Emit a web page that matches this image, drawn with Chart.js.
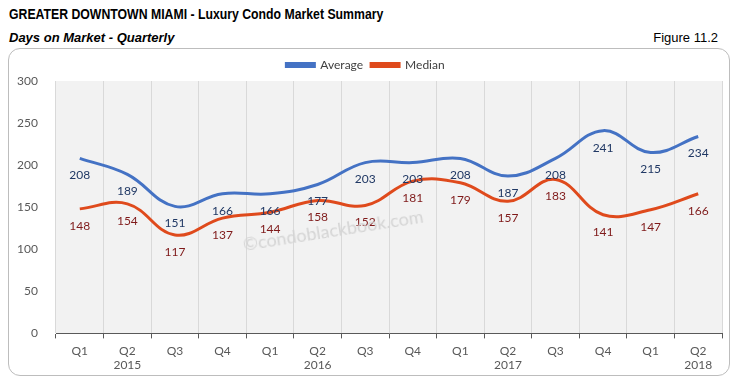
<!DOCTYPE html>
<html>
<head>
<meta charset="utf-8">
<script src="https://cdn.jsdelivr.net/npm/chart.js@4"></script>
<style>
  body { margin: 0; width: 732px; height: 384px; background: #fff; font-family: "Liberation Sans", Arial, sans-serif; position: relative; overflow: hidden; }
  .title { position: absolute; left: 9px; top: 6px; font-size: 14px; font-weight: bold; color: #000; transform: scaleX(0.876); transform-origin: left top; white-space: nowrap; }
  .subtitle { position: absolute; left: 9px; top: 30px; font-size: 13px; font-weight: bold; font-style: italic; color: #000; }
  .fig { position: absolute; right: 14px; top: 30px; font-size: 13px; color: #000; }
  .box { position: absolute; left: 8px; top: 48px; width: 720px; height: 326px; border: 1px solid #bdbdbd; border-radius: 12px; }
  #chart { position: absolute; left: 0; top: 0; }
  .mark { position: absolute; left: 243px; top: 233px; font-family: Lato, sans-serif; font-size: 18px; color: #d4d4d4; transform: rotate(-9deg); transform-origin: left center; white-space: nowrap; }
</style>
</head>
<body>
<div class="title">GREATER DOWNTOWN MIAMI - Luxury Condo Market Summary</div>
<div class="subtitle">Days on Market - Quarterly</div>
<div class="fig">Figure 11.2</div>
<div class="box"><canvas id="chart" width="720" height="329"></canvas></div>
<div class="mark">©condoblackbook.com</div>
<script>
// quarters and year labels
const quarters = ['Q1', 'Q2', 'Q3', 'Q4', 'Q1', 'Q2', 'Q3', 'Q4', 'Q1', 'Q2', 'Q3', 'Q4', 'Q1', 'Q2']
const years = ['', '2015', '', '', '', '2016', '', '', '', '2017', '', '', '', '2018']
const average = [208, 189, 151, 166, 166, 177, 203, 203, 208, 187, 208, 241, 215, 234]
const median = [148, 154, 117, 137, 144, 158, 152, 181, 179, 157, 183, 141, 147, 166]
const yTicks = [0, 50, 100, 150, 200, 250, 300]

const labels = quarters.map((q, i) => [q, years[i]])

// grey plot background
const plotBg = {
  id: 'plotBg',
  beforeDraw (chart) {
    const { ctx, chartArea: a } = chart
    ctx.save()
    ctx.fillStyle = '#f2f2f2'
    ctx.fillRect(a.left, a.top, a.right - a.left, a.bottom - a.top)
    ctx.restore()
  }
}

// value labels under each point
const valueLabels = {
  id: 'valueLabels',
  afterDatasetsDraw (chart) {
    const ctx = chart.ctx
    ctx.save()
    ctx.font = '12px Lato, sans-serif'
    ctx.textAlign = 'center'
    ctx.textBaseline = 'middle'
    chart.data.datasets.forEach((ds, di) => {
      const meta = chart.getDatasetMeta(di)
      ctx.fillStyle = ds.labelColor
      meta.data.forEach((pt, i) => {
        ctx.fillText(String(ds.data[i]), pt.x, pt.y + 17)
      })
    })
    ctx.restore()
  }
}

// eslint-disable-next-line no-unused-vars
const lineChart = new Chart(document.getElementById('chart'), {
  type: 'line',
  data: {
    labels: labels,
    datasets: [
      {
        label: 'Average',
        data: average,
        borderColor: '#4472c4',
        backgroundColor: '#4472c4',
        labelColor: '#203864',
        borderWidth: 3,
        tension: 0.4,
        pointRadius: 0
      },
      {
        label: 'Median',
        data: median,
        borderColor: '#df4a1c',
        backgroundColor: '#df4a1c',
        labelColor: '#7f1a1a',
        borderWidth: 3,
        tension: 0.4,
        pointRadius: 0
      }
    ]
  },
  options: {
    responsive: false,
    animation: false,
    layout: { padding: { top: 2, right: 7, bottom: 0, left: 0 } },
    plugins: {
      legend: {
        position: 'top',
        labels: {
          boxWidth: 28,
          boxHeight: 3,
          color: '#404040',
          font: { family: 'Lato, sans-serif', size: 12 },
          padding: 8
        }
      },
      tooltip: { enabled: false }
    },
    scales: {
      x: {
        offset: true,
        grid: { offset: true, color: '#d9d9d9', tickColor: '#595959', tickLength: 5 },
        border: { color: '#595959' },
        ticks: {
          color: '#595959',
          font: { family: 'Lato, sans-serif', size: 12, lineHeight: 1.15 },
          maxRotation: 0,
          autoSkip: false,
          padding: 6
        }
      },
      y: {
        min: 0,
        max: 300,
        afterBuildTicks (scale) { scale.ticks = yTicks.map(v => ({ value: v })) },
        afterFit (scale) { scale.width = 47 },
        grid: { display: false },
        border: { display: false },
        ticks: {
          color: '#595959',
          font: { family: 'Lato, sans-serif', size: 12 },
          padding: 10
        }
      }
    }
  },
  plugins: [plotBg, valueLabels]
})
</script>
</body>
</html>
